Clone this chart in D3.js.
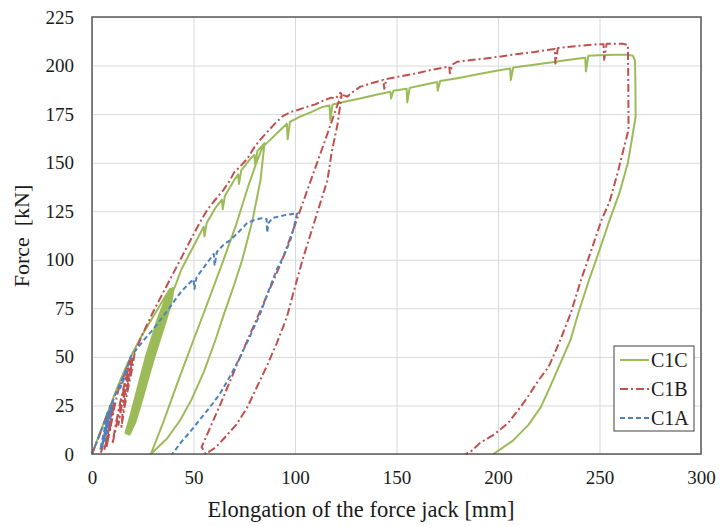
<!DOCTYPE html>
<html>
<head>
<meta charset="utf-8">
<script src="https://d3js.org/d3.v7.min.js"></script>
<style>
  body { margin: 0; background: #fff; }
</style>
</head>
<body>
<div id="chart"></div>
<script>
const FONT = "'Liberation Serif', 'Times New Roman', Times, 'DejaVu Serif', serif";

// axis ticks
const xTicks = [0, 50, 100, 150, 200, 250, 300];
const yTicks = [0, 25, 50, 75, 100, 125, 150, 175, 200, 225];

// C1C - elongation [mm], force [kN]
const c1c = [
  [0,0],[4,11],[8,22],[12,33],[16,43],[20,52],[24,60],[28,67],[32,74],[36,81],[38.5,85],
  // repeated cycles between ~10 and ~85 kN
  [37,77],[34,67],[31,57],[28,47],[25,36],[22,25],[19.5,16.5],[16.5,11],
  [19,20],[21.5,30],[24,40],[26.5,50],[29.5,60],[32.5,70],[35.5,78],[38.8,85],
  [37.4,77],[34.4,67],[31.4,57],[28.4,47],[25.4,36],[22.4,25],[19.9,16.5],[17,10.5],
  [19.5,20],[22,30],[24.5,40],[27,50],[30,60],[33,70],[36,78],[39.3,85],
  [37.9,77],[34.9,67],[31.9,57],[28.9,47],[25.9,36],[22.9,25],[20.4,16.5],[17.5,10.5],
  [20,20],[22.5,30],[25,40],[27.5,50],[30.5,60],[33.5,70],[36.5,78],[39.8,85.5],
  [38.4,77],[35.4,67],[32.4,57],[29.4,47],[26.4,36],[23.4,25],[20.9,16.5],[18,10],
  [20.5,20],[23,30],[25.5,40],[28,50],[31,60],[34,70],[37,78],[40.3,85.5],
  [38.9,77],[35.9,67],[32.9,57],[29.9,47],[26.9,36],[23.9,25],[21.4,16.5],[18.5,10],
  [21,20],[23.5,30],[26,40],[28.5,50],[31.5,60],[34.5,70],[37.5,78],[40.8,86],
  [44,95],[48,103],[52,111],[55,117],[55.4,112],[56.5,119],[61,127],[64,131],[64.4,126],[65.5,133],
  [70,141],[72,144],[72.4,139],[73.5,146],[78,152],[80,154],[80.4,149],[81.5,156],[85,160],
  [83,141],[79,120],[74,100],[70,87],[65,72],[60.8,58.7],[55,42],[49,28],[43.5,17.5],[37,8],[29,0],
  [35,16],[42.6,38],[50,58.7],[57,78],[64.8,100],[71,118],[77,138],[81,150],[84,158],
  [88,162],[92,166],[96,170],[96.4,162],[97.5,171],[102,173.5],[108,176],[113,178.5],[117,179.5],
  [117.4,172],[118.5,180],[125,181.5],[132,183],[140,185],[147,186.5],[147.3,183],[148.5,187],
  [155,188],[155.3,181],[156.5,188.5],[163,190],[170,191.5],[170.3,187],[171.5,192],[180,193.5],
  [190,195.5],[200,197.5],[206,198.5],[206.3,192.5],[207.5,199],[215,200],[225,201.5],[235,203],
  [243,204],[243.3,197],[244.5,205],[250,205.3],[258,205.5],[264,205.5],[266.5,205],[267.5,202.5],
  [267.7,190],[267.8,173.5],
  [264,150],[260,135],[255,120.5],[250,105],[245,90],[240,74],[235.7,58.7],[230,45],[225,33],
  [221,24],[215,15],[207.5,7],[202,3],[197.7,0]
];

// C1B
const c1b = [
  [0,0],[3,8],[6,16],[8,22],[7,14],[5.5,5],[4.5,1],[6,9],[8.5,20],[10,26],[9,18],[7.5,8],[6,2],
  [7.5,9],[9.5,19],[11,27],[9.5,17],[8,8],[7,3],[9,13],[11,24],[13,33],[15,38],[17,44],[18.5,48],
  [17,40],[15,30],[13,20],[11.5,12],[10,5],[12,17],[14,27],[16,36],[18,44],[19.5,49],
  [18,41],[16,32],[14,22],[13,15],[14.5,24],[16.5,33],[18.5,42],[20,49],
  [18.5,40],[16.5,30],[15,20],[14.5,14],[16,24],[18,35],[20,45],[21,52],
  [25,62],[30,73],[35,83],[40,93],[43.5,100],[47,107],[50,113],[53,119],[56.7,125.6],[60,130],
  [64.8,136],[68,141],[70,145],[73,148],[76.5,152],[80,158],[83,162],[86.5,166],[90,170],[94,174],
  [97.7,176],[101,177],[105,178.5],[110,180],[114,182],[118,183.5],[120,183],[122.4,186],[123,185],
  [121,170],[118,155],[116,141],[110,121],[104,101],[100,86],[96,70.5],[91,57],[86,45],[81,34],
  [76.5,24],[71,15],[65,8],[61,3.5],[56,0],
  [54,3.6],[63,25],[73,50],[83,74],[93,98],[100,118],[107.5,140],[115,162],[121,180],[123,185],
  [125.7,184],[128,186],[132,189],[138,191],[143.5,192.6],[144,188],[145,193],[152,194.5],
  [160,196],[166.7,197.7],[176,199.5],[176.3,196],[177.5,200.5],[180,202],[190,203.2],[199.6,204.4],
  [210,206],[218,207],[224,208],[228,208.5],[228.3,201],[229.5,209],[238,210],[248.6,211],[252,211],
  [252.3,203],[253.5,211.2],[261.5,211.2],[264,210.5],[264.2,190],[264.3,167],
  [259,145],[255,130],[251,120.5],[246,105],[241,90],[236,73],[230.7,58.7],[225,45],[220,38],
  [215,30],[211,24],[205,16],[198,10],[191,5.6],[186.4,1],[184,0]
];

// C1A
const c1a = [
  [0,0],[3,8],[6,16],[8,22],[7,15],[5.5,7],[4,2],[5,7],[6,12],[7.5,19],[9,25],[8,18],[7,12],[5,4],
  [6,9],[7,15],[8.5,21],[10,27],[9,20],[7.5,12],[6.5,7],[8,15],[9.5,22],[10.5,28],[12,32],
  [15,39],[17,44],[15.5,38],[14,34],[15.5,38],[19,50],
  [22,54],[25,58],[30,64],[33.7,69],[38,75],[40,78],[43.5,83],[47,87],[50,90],[50.5,85],[51.5,91],
  [55,96],[60,103],[60.4,97],[61.5,104],[65,108],[68,110],[72,114],[76.5,119],[80,120.5],[84,121.5],
  [86,121],[86.3,114],[87,119],[89,121.5],[95,123],[101,124],
  [99.5,117],[97.7,110],[94.5,102],[91,95],[87,84],[83,72.6],[78,61],[73,50],[68,40],[63,31],
  [58,24],[53,17.5],[48,11],[43.5,5.6],[41,2],[39.5,0]
];

const series = [
  {name: "C1C", data: c1c, color: "#9BBB59", dash: null},
  {name: "C1B", data: c1b, color: "#C0504D", dash: "8,3,2,3"},
  {name: "C1A", data: c1a, color: "#4F81BD", dash: "5,3"}
];

const W = 720, H = 526;
const plot = {left: 92, top: 17, right: 701, bottom: 454};

const svg = d3.select("#chart")
    .append("svg")
    .attr("width", W)
    .attr("height", H)
    .attr("font-family", FONT);

const x = d3.scaleLinear().domain([0, 300]).range([plot.left, plot.right]);
const y = d3.scaleLinear().domain([0, 225]).range([plot.bottom, plot.top]);

// gridlines
svg.append("g")
    .attr("transform", `translate(0,${plot.bottom})`)
    .call(d3.axisBottom(x).tickValues(xTicks).tickSize(-(plot.bottom - plot.top)).tickFormat(""))
    .call(g => g.select(".domain").remove())
    .selectAll("line").attr("stroke", "#d9d9d9");

svg.append("g")
    .attr("transform", `translate(${plot.left},0)`)
    .call(d3.axisLeft(y).tickValues(yTicks).tickSize(-(plot.right - plot.left)).tickFormat(""))
    .call(g => g.select(".domain").remove())
    .selectAll("line").attr("stroke", "#d9d9d9");

// tick labels
svg.append("g")
    .attr("transform", `translate(0,${plot.bottom})`)
    .call(d3.axisBottom(x).tickValues(xTicks).tickSize(0).tickPadding(17))
    .call(g => g.select(".domain").remove())
    .attr("font-family", FONT)
    .attr("font-size", 19)
    .selectAll("text")
    .attr("fill", "#1a1a1a");

svg.append("g")
    .attr("transform", `translate(${plot.left},0)`)
    .call(d3.axisLeft(y).tickValues(yTicks).tickSize(0).tickPadding(18))
    .call(g => g.select(".domain").remove())
    .attr("font-family", FONT)
    .attr("font-size", 19)
    .selectAll("text")
    .attr("fill", "#1a1a1a");

// curves
const line = d3.line()
    .x(d => x(d[0]))
    .y(d => y(d[1]));

series.forEach(s => {
    svg.append("path")
        .datum(s.data)
        .attr("d", line)
        .attr("fill", "none")
        .attr("stroke", s.color)
        .attr("stroke-width", 2)
        .attr("stroke-linejoin", "round")
        .attr("stroke-dasharray", s.dash);
});

// plot border
svg.append("rect")
    .attr("x", plot.left)
    .attr("y", plot.top)
    .attr("width", plot.right - plot.left)
    .attr("height", plot.bottom - plot.top)
    .attr("fill", "none")
    .attr("stroke", "#595959")
    .attr("stroke-width", 1.5);

// axis titles
svg.append("text")
    .attr("x", 361)
    .attr("y", 517)
    .attr("text-anchor", "middle")
    .attr("font-size", 22.5)
    .attr("fill", "#1a1a1a")
    .text("Elongation of the force jack [mm]");

svg.append("text")
    .attr("transform", `translate(29,236) rotate(-90)`)
    .attr("text-anchor", "middle")
    .attr("font-size", 22)
    .attr("fill", "#1a1a1a")
    .attr("xml:space", "preserve")
    .style("white-space", "pre")
    .text("Force  [kN]");

// legend
const legend = svg.append("g").attr("transform", "translate(614,346)");
legend.append("rect")
    .attr("width", 80)
    .attr("height", 85)
    .attr("fill", "#fff")
    .attr("stroke", "#404040")
    .attr("stroke-width", 1);

series.forEach((s, i) => {
    const ly = 14 + i * 29;
    legend.append("line")
        .attr("x1", 6).attr("x2", 35)
        .attr("y1", ly).attr("y2", ly)
        .attr("stroke", s.color)
        .attr("stroke-width", 2)
        .attr("stroke-dasharray", s.dash);
    legend.append("text")
        .attr("x", 37)
        .attr("y", ly + 7)
        .attr("font-size", 20)
        .attr("fill", "#1a1a1a")
        .text(s.name);
});
</script>
</body>
</html>
